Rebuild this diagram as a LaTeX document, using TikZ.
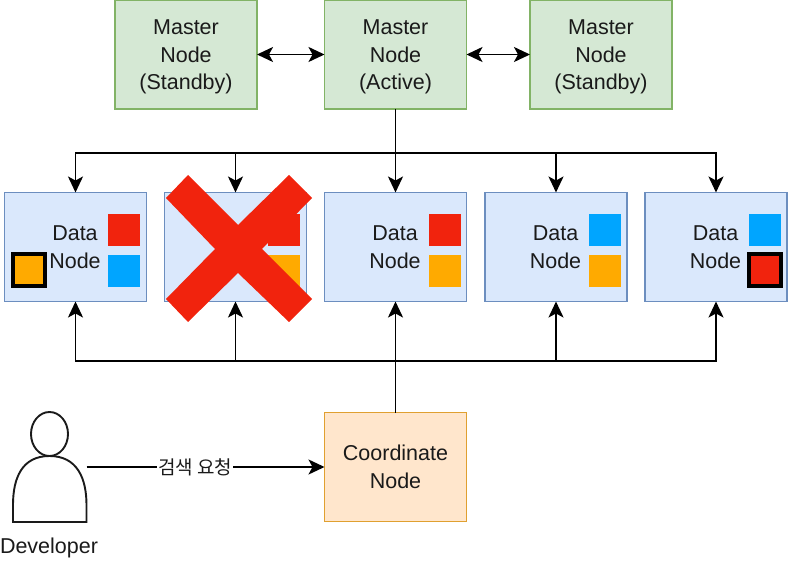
\documentclass[tikz,border=0pt]{standalone}
\usepackage{fontspec}
\setmainfont{Liberation Sans}
\newfontfamily\krfont{Noto Sans CJK KR}
\usetikzlibrary{arrows.meta,shapes.geometric}
\definecolor{gfill}{HTML}{D5E8D4}\definecolor{gline}{HTML}{82B366}
\definecolor{bfill}{HTML}{DAE8FC}\definecolor{bline}{HTML}{6C8EBF}
\definecolor{ofill}{HTML}{FFE6CC}\definecolor{oline}{HTML}{E0A030}
\definecolor{cred}{HTML}{F1230D}\definecolor{cblue}{HTML}{00A5FF}\definecolor{corange}{HTML}{FFAA00}
\definecolor{ink}{HTML}{1A1A1A}
\newcommand{\lift}{\rule{0pt}{20pt}}
\tikzset{
 box/.style={draw,line width=1.9pt,minimum width=142pt,minimum height=109pt,outer sep=0pt,inner sep=0pt,align=center,font=\fontsize{21.5}{27.5}\selectfont,text=ink},
 master/.style={box,fill=gfill,draw=gline},
 data/.style={box,fill=bfill,draw=bline},
 coord/.style={box,fill=ofill,draw=oline},
 chip/.style={minimum size=32pt,inner sep=0pt,outer sep=0pt},
 marked/.style={chip,draw=black,line width=4pt,minimum size=32pt},
 lbl/.style={inner sep=0pt,align=center,font=\fontsize{21.5}{27.5}\selectfont,text=ink},
 arr/.style={draw=black,line width=1.8pt,-{Stealth[length=16pt,width=15pt,inset=4pt]}},
 arrb/.style={draw=black,line width=1.8pt,{Stealth[length=16pt,width=15pt,inset=4pt]}-{Stealth[length=16pt,width=15pt,inset=4pt]}},
 person/.style={draw=ink,line width=1.9pt,fill=white}
}
\begin{document}
\begin{tikzpicture}[x=1pt,y=-1pt]
\useasboundingbox (0,0) rectangle (790,561);
% masters
\node[master] (m1) at (186,54.5) {\lift Master\\Node\\(Standby)};
\node[master] (m2) at (395.5,54.5) {\lift Master\\Node\\(Active)};
\node[master] (m3) at (601,54.5) {\lift Master\\Node\\(Standby)};
% data nodes
\node[data] (d1) at (75.5,247) {};
\node[data] (d2) at (235.5,247) {};
\node[data] (d3) at (395.5,247) {};
\node[data] (d4) at (556,247) {};
\node[data] (d5) at (716,247) {};
\node[coord] (c) at (395.5,467) {Coordinate\\Node};
% connectors
\coordinate (bt) at (395.5,153);
\coordinate (bb) at (395.5,361);
\draw[arrb] (m1.east) -- (m2.west);
\draw[arrb] (m2.east) -- (m3.west);
\draw[arr] (m2.south) -- (d3.north);
\draw[arr] (bt) -| (d1.north);
\draw[arr] (bt) -| (d2.north);
\draw[arr] (bt) -| (d4.north);
\draw[arr] (bt) -| (d5.north);
\draw[arr] (c.north) -- (d3.south);
\draw[arr] (bb) -| (d1.south);
\draw[arr] (bb) -| (d2.south);
\draw[arr] (bb) -| (d4.south);
\draw[arr] (bb) -| (d5.south);
% data labels
\foreach \n/\x in {a/75,b/235,e/395,f/555.5,g/715.5}{
 \node[lbl] (t\n) at (\x,247) {Data\\Node};
}
% chips
\node[chip,fill=cred] (s1a) at (123.5,230) {};
\node[chip,fill=cblue] (s1b) at (123.5,271) {};
\node[marked,fill=corange] (s1c) at (29,270.5) {};
\node[chip,fill=cred] (s2a) at (284,230) {};
\node[chip,fill=corange] (s2b) at (284,271) {};
\node[chip,fill=cred] (s3a) at (444.5,230) {};
\node[chip,fill=corange] (s3b) at (444.5,271) {};
\node[chip,fill=cblue] (s4a) at (605,230) {};
\node[chip,fill=corange] (s4b) at (605,271) {};
\node[chip,fill=cblue] (s5a) at (765,230) {};
\node[marked,fill=cred] (s5b) at (765,270.5) {};
% red cross
\fill[cred] (188,175) -- (238,225) -- (289,175) -- (312,198) -- (262,249) -- (312,299) -- (289,322) -- (238,273) -- (188,322) -- (166,299) -- (215,249) -- (166,198) -- cycle;
% person
\draw[person] (13,522) -- (13,505) .. controls (13,478) and (22,456) .. (49.5,456) .. controls (77,456) and (86.5,478) .. (86.5,505) -- (86.5,522) -- cycle;
\node[person,ellipse,minimum width=37pt,minimum height=44pt,inner sep=0pt,outer sep=0pt] (head) at (49.5,434) {};
\node[lbl] (dev) at (49,548) {Developer};
\coordinate (from) at (86.5,467);
\draw[arr] (from) -- (c.west) node[pos=0.457,fill=white,inner sep=1pt,text=ink,font=\krfont\fontsize{19}{22}\selectfont] (q) {검색 요청};
\end{tikzpicture}
\end{document}
